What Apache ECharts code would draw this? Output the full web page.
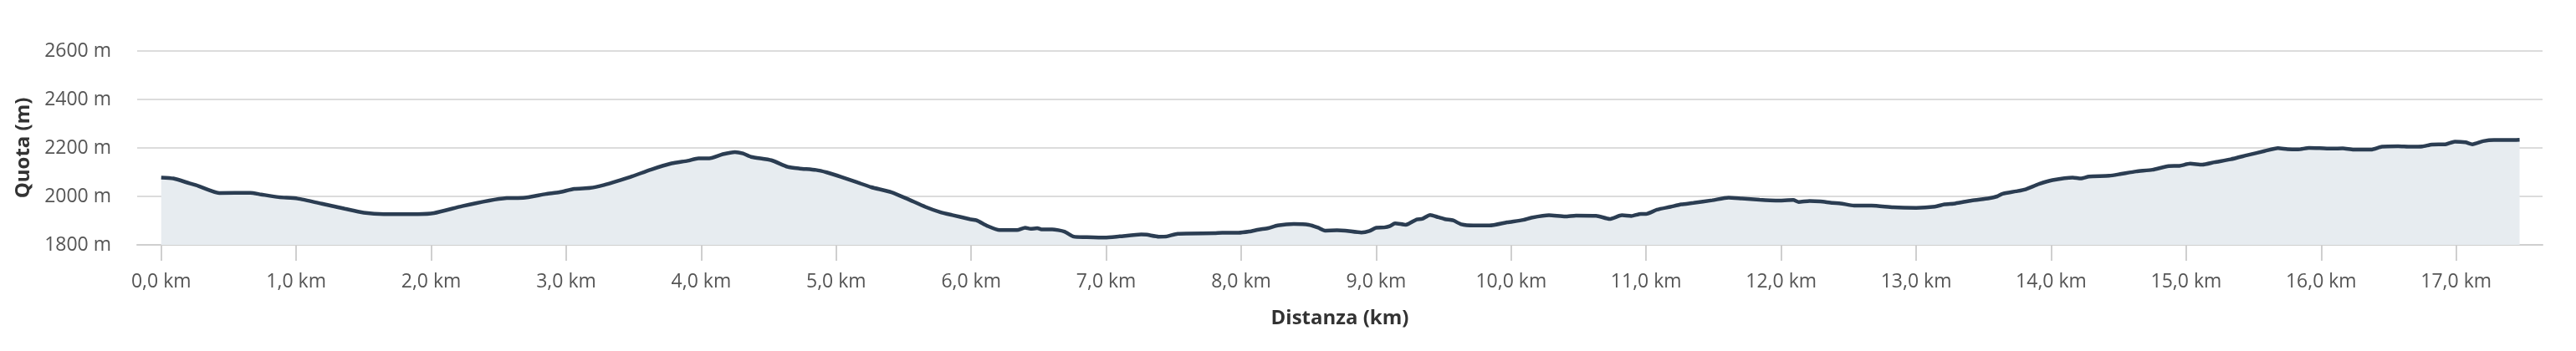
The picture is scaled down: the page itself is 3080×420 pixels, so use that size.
<!DOCTYPE html>
<html>
<head>
<meta charset="utf-8">
<script src="https://cdn.jsdelivr.net/npm/echarts@6/dist/echarts.min.js"></script>
<style>
html,body{margin:0;padding:0;background:#fff;}
#chart{width:3080px;height:420px;}
</style>
</head>
<body>
<div id="chart"></div>
<script>
const distanceKm = [0.00,0.09,0.21,0.26,0.43,0.66,0.74,0.87,1.01,1.19,1.36,1.50,1.65,1.90,2.02,2.23,2.43,2.56,2.68,2.85,2.95,3.06,3.18,3.28,3.40,3.49,3.63,3.78,3.90,3.98,4.06,4.16,4.25,4.31,4.37,4.52,4.64,4.73,4.85,4.93,5.04,5.16,5.26,5.41,5.53,5.66,5.78,5.86,5.99,6.04,6.12,6.21,6.34,6.40,6.44,6.49,6.52,6.60,6.69,6.76,6.85,6.99,7.10,7.26,7.30,7.39,7.45,7.53,7.80,7.86,7.98,8.06,8.13,8.20,8.27,8.39,8.50,8.57,8.62,8.71,8.77,8.89,8.95,9.00,9.06,9.10,9.14,9.22,9.30,9.34,9.40,9.46,9.51,9.57,9.63,9.72,9.84,9.97,10.09,10.15,10.28,10.40,10.48,10.63,10.73,10.82,10.89,10.96,11.00,11.08,11.18,11.26,11.35,11.49,11.61,11.71,11.84,11.96,12.09,12.13,12.21,12.29,12.38,12.44,12.54,12.67,12.83,13.00,13.14,13.21,13.29,13.41,13.54,13.60,13.64,13.74,13.81,13.91,14.01,14.16,14.22,14.28,14.43,14.52,14.63,14.75,14.87,14.95,15.03,15.12,15.21,15.33,15.46,15.58,15.68,15.75,15.83,15.91,15.99,16.08,16.16,16.24,16.37,16.45,16.57,16.66,16.75,16.82,16.92,16.99,17.07,17.12,17.20,17.28,17.40,17.47];
const elevationM = [2078,2074,2054,2046,2014,2015,2008,1997,1991,1970,1949,1933,1927,1927,1931,1960,1983,1993,1994,2010,2017,2031,2035,2047,2067,2083,2111,2136,2147,2157,2157,2174,2183,2177,2163,2149,2122,2115,2109,2099,2080,2057,2038,2017,1989,1957,1933,1923,1906,1901,1878,1861,1861,1871,1866,1869,1864,1864,1855,1834,1832,1830,1835,1843,1842,1834,1835,1846,1848,1850,1850,1855,1863,1869,1880,1886,1883,1871,1859,1860,1859,1851,1857,1871,1872,1877,1889,1883,1905,1907,1923,1914,1906,1901,1885,1880,1880,1893,1903,1912,1922,1917,1921,1920,1907,1922,1919,1928,1928,1945,1957,1967,1973,1984,1995,1991,1986,1983,1985,1977,1981,1979,1973,1971,1962,1962,1955,1953,1958,1967,1971,1983,1992,2000,2011,2021,2029,2051,2067,2078,2074,2082,2085,2093,2103,2110,2125,2126,2135,2131,2141,2153,2171,2187,2199,2195,2194,2200,2199,2197,2198,2193,2193,2205,2207,2205,2206,2214,2215,2226,2223,2215,2228,2233,2233,2234];
const xTickKm = [0,1,2,3,4,5,6,7,8,9,10,11,12,13,14,15,16,17];
const yTickM = [1800,2000,2200,2400,2600];
const xTitle = 'Distanza (km)';
const yTitle = 'Quota (m)';

const points = distanceKm.map((d, i) => [d, elevationM[i]]);
const chart = echarts.init(document.getElementById('chart'));
chart.setOption({
  animation: false,
  backgroundColor: '#ffffff',
  grid: { left: 164, right: 40, top: 61, bottom: 127, containLabel: false },
  xAxis: {
    type: 'value',
    min: -0.178,
    max: 17.64,
    name: xTitle,
    nameLocation: 'middle',
    nameGap: 76,
    nameTextStyle: { fontFamily: 'Open Sans', fontSize: 24, fontWeight: 'bold', color: '#333' },
    axisLine: { show: true, lineStyle: { color: '#cfcfcf', width: 2 } },
    axisTick: { show: true, customValues: xTickKm, length: 19, lineStyle: { color: '#cfcfcf', width: 2 } },
    axisLabel: {
      customValues: xTickKm,
      margin: 33,
      fontFamily: 'Open Sans', fontSize: 23, color: '#555',
      formatter: v => v.toFixed(1).replace('.', ',') + ' km'
    },
    splitLine: { show: false }
  },
  yAxis: {
    type: 'value',
    min: yTickM[0],
    max: yTickM[yTickM.length - 1],
    interval: 200,
    name: yTitle,
    nameLocation: 'middle',
    nameGap: 124,
    nameRotate: 90,
    nameTextStyle: { fontFamily: 'Open Sans', fontSize: 24, fontWeight: 'bold', color: '#333' },
    axisLine: { show: false },
    axisTick: { show: false },
    axisLabel: { margin: 31, fontFamily: 'Open Sans', fontSize: 23, color: '#555', formatter: v => String(Math.round(v)) + ' m' },
    splitLine: { show: true, lineStyle: { color: '#dcdcdc', width: 2 } }
  },
  series: [{
    type: 'line',
    data: points,
    showSymbol: false,
    smooth: 0.2,
    lineStyle: { color: '#2b3d52', width: 4.5 },
    areaStyle: { color: '#e7ecf0', opacity: 1, origin: 'start' },
    z: 3
  }]
});
</script>
</body>
</html>
